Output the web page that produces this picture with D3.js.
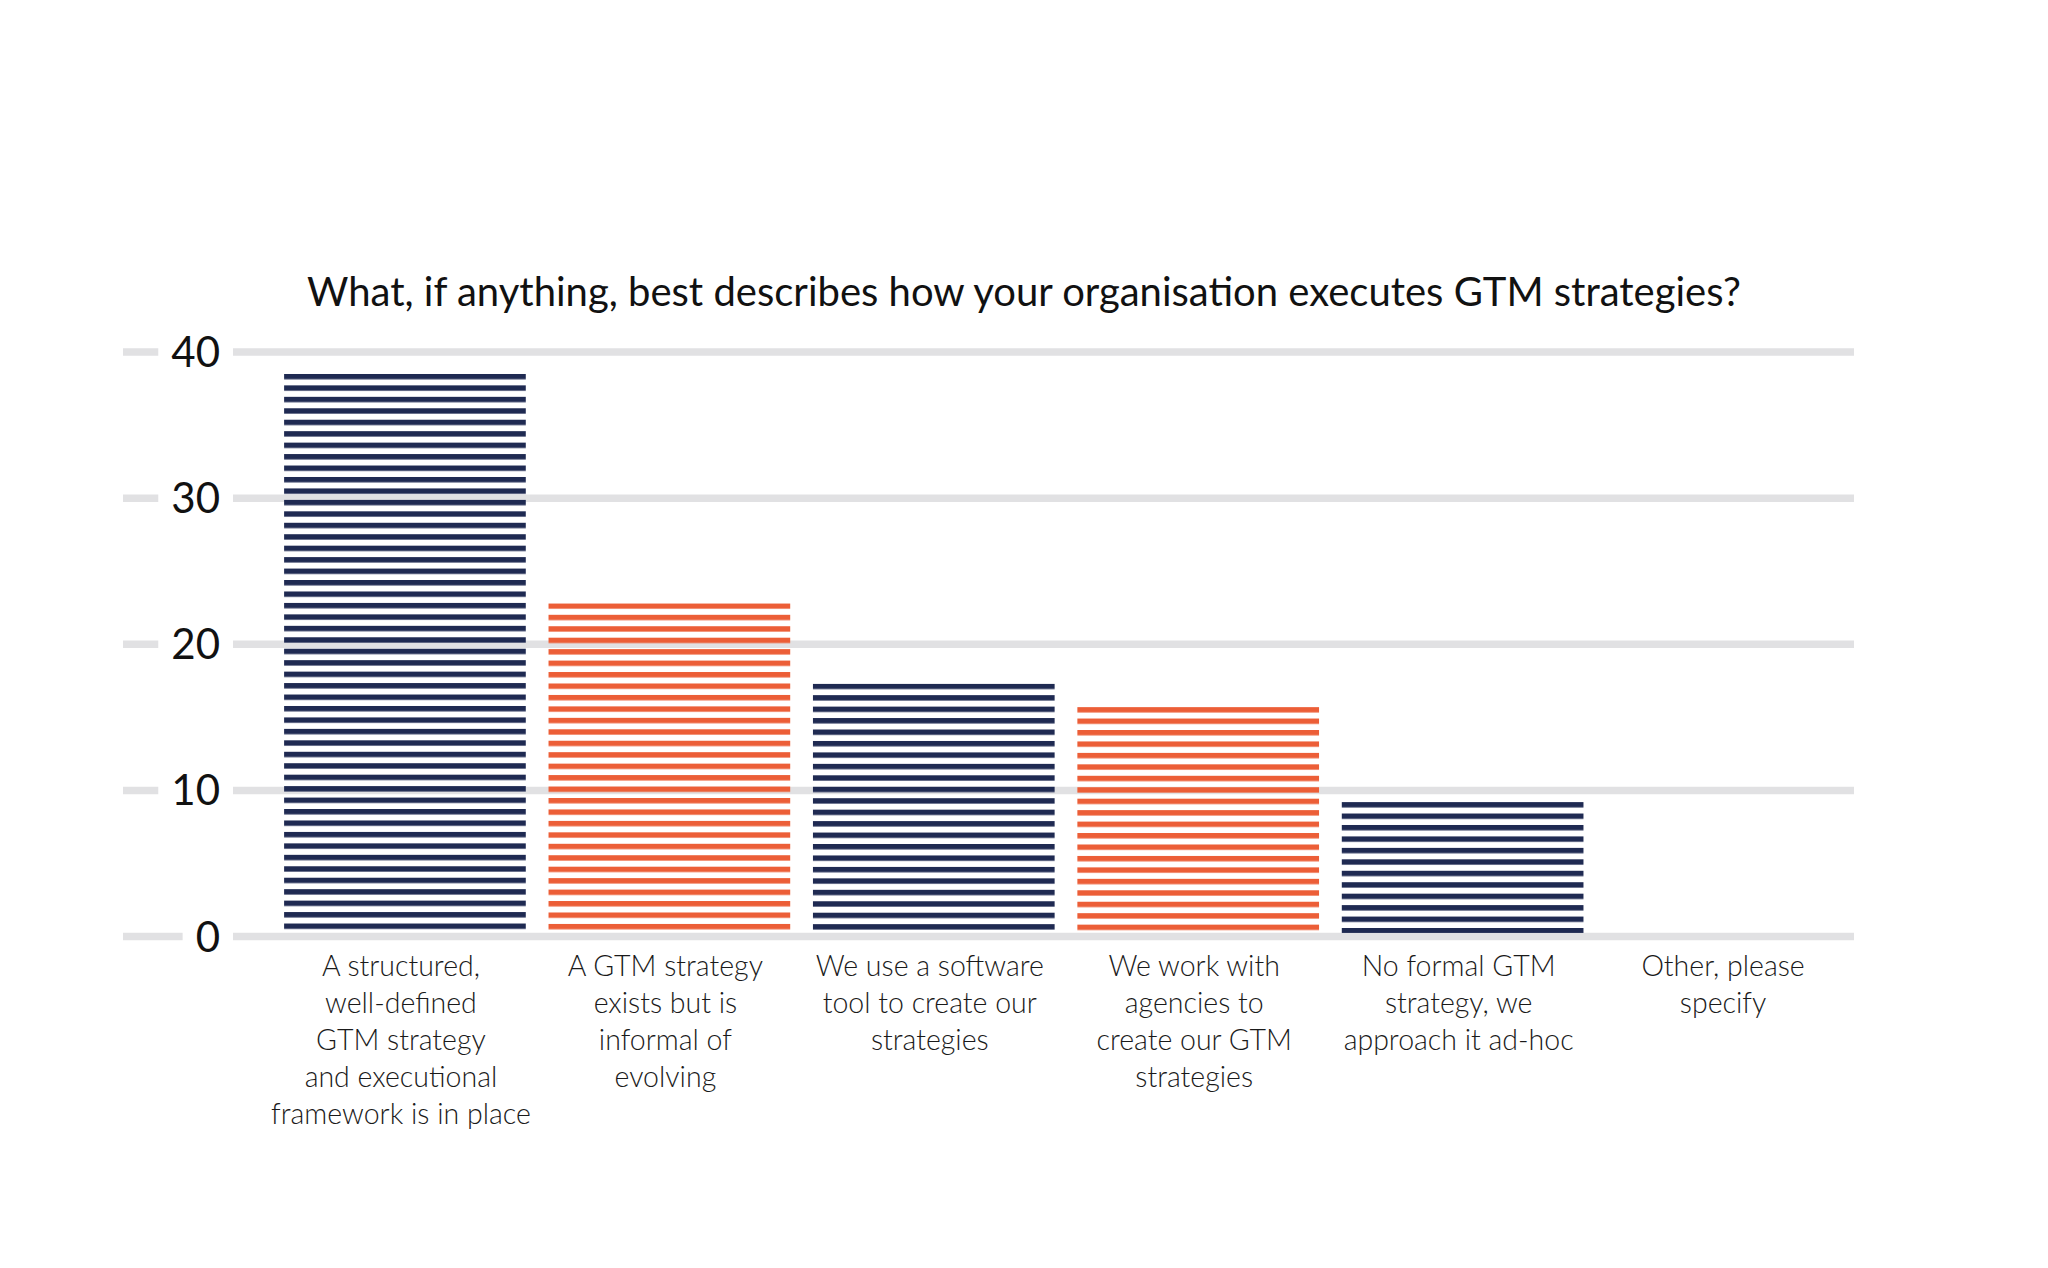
<!DOCTYPE html>
<html>
<head>
<meta charset="utf-8">
<script src="https://cdn.jsdelivr.net/npm/d3@7"></script>
<style>
  body { margin: 0; background: #ffffff; }
</style>
</head>
<body>
<div id="chart"></div>
<script>
var title = "What, if anything, best describes how your organisation executes GTM strategies?";

var categories = [
    ["A structured,", "well-defined", "GTM strategy", "and executional", "framework is in place"],
    ["A GTM strategy", "exists but is", "informal of", "evolving"],
    ["We use a software", "tool to create our", "strategies"],
    ["We work with", "agencies to", "create our GTM", "strategies"],
    ["No formal GTM", "strategy, we", "approach it ad-hoc"],
    ["Other, please", "specify"]
];
var values = [38.5, 22.8, 17.3, 15.7, 9.2, 0];
var barColors = ["#1f2a52", "#ec5e37", "#1f2a52", "#ec5e37", "#1f2a52", "#ec5e37"];
var yTicks = [0, 10, 20, 30, 40];

var width = 2048;
var height = 1268;

var svg = d3.select("#chart")
    .append("svg")
    .attr("width", width)
    .attr("height", height);

svg.append("rect")
    .attr("width", width)
    .attr("height", height)
    .attr("fill", "#ffffff");

var x = d3.scaleBand()
    .domain(d3.range(values.length))
    .range([273, 1859])
    .paddingInner(0.086)
    .paddingOuter(0.042);

var y = d3.scaleLinear()
    .domain([0, 40])
    .range([936.5, 352]);

// title
svg.append("text")
    .attr("x", 1024)
    .attr("y", 306)
    .attr("text-anchor", "middle")
    .attr("font-family", "Lato, 'Open Sans', sans-serif")
    .attr("font-size", "40px")
    .attr("fill", "#111111")
    .text(title);

// gridlines + tick labels
var tickG = svg.append("g")
    .selectAll("g")
    .data(yTicks)
    .enter()
    .append("g");

tickG.append("line")
    .attr("x1", 233)
    .attr("x2", 1854)
    .attr("y1", function (d) { return y(d); })
    .attr("y2", function (d) { return y(d); })
    .attr("stroke", "#e1e1e3")
    .attr("stroke-width", 7.5);

tickG.append("text")
    .attr("class", "ylab")
    .attr("x", 220)
    .attr("y", function (d) { return y(d) + 15; })
    .attr("text-anchor", "end")
    .attr("font-family", "Lato, 'Open Sans', sans-serif")
    .attr("font-size", "42px")
    .attr("fill", "#111111")
    .text(function (d) { return d; });

// little dash left of each label, stops short of the text
tickG.each(function (d) {
    var g = d3.select(this);
    var box = g.select("text").node().getBBox();
    g.append("line")
        .attr("x1", 123)
        .attr("x2", box.x - 13)
        .attr("y1", y(d))
        .attr("y2", y(d))
        .attr("stroke", "#e1e1e3")
        .attr("stroke-width", 7.5);
});

// striped bars, stripes start at each bar's top
var stripeStep = 11.45;
var stripeH = 5.4;
var barBottom = y(0) - 3.5;
var defs = svg.append("defs");

values.forEach(function (v, i) {
    var pat = defs.append("pattern")
        .attr("id", "stripes" + i)
        .attr("patternUnits", "userSpaceOnUse")
        .attr("x", 0)
        .attr("y", y(v))
        .attr("width", 20)
        .attr("height", stripeStep);
    pat.append("rect")
        .attr("x", 0)
        .attr("y", 0)
        .attr("width", 20)
        .attr("height", stripeH)
        .attr("fill", barColors[i]);
});

svg.append("g")
    .selectAll("rect")
    .data(values)
    .enter()
    .append("rect")
    .attr("x", function (d, i) { return x(i); })
    .attr("y", function (d) { return y(d); })
    .attr("width", x.bandwidth())
    .attr("height", function (d) { return Math.max(0, barBottom - y(d)); })
    .attr("fill", function (d, i) { return "url(#stripes" + i + ")"; });

// category labels
var labels = svg.append("g")
    .selectAll("text")
    .data(categories)
    .enter()
    .append("text")
    .attr("text-anchor", "middle")
    .attr("font-family", "Lato, 'Open Sans', sans-serif")
    .attr("font-weight", 300)
    .attr("font-size", "28.5px")
    .attr("fill", "#1a1a1a");

labels.selectAll("tspan")
    .data(function (d, i) { return d.map(function (l) { return {line: l, i: i}; }); })
    .enter()
    .append("tspan")
    .attr("x", function (d) { return x(d.i) + x.bandwidth() / 2 - 4; })
    .attr("y", function (d, j) { return 976 + j * 37; })
    .text(function (d) { return d.line; });
</script>
</body>
</html>
